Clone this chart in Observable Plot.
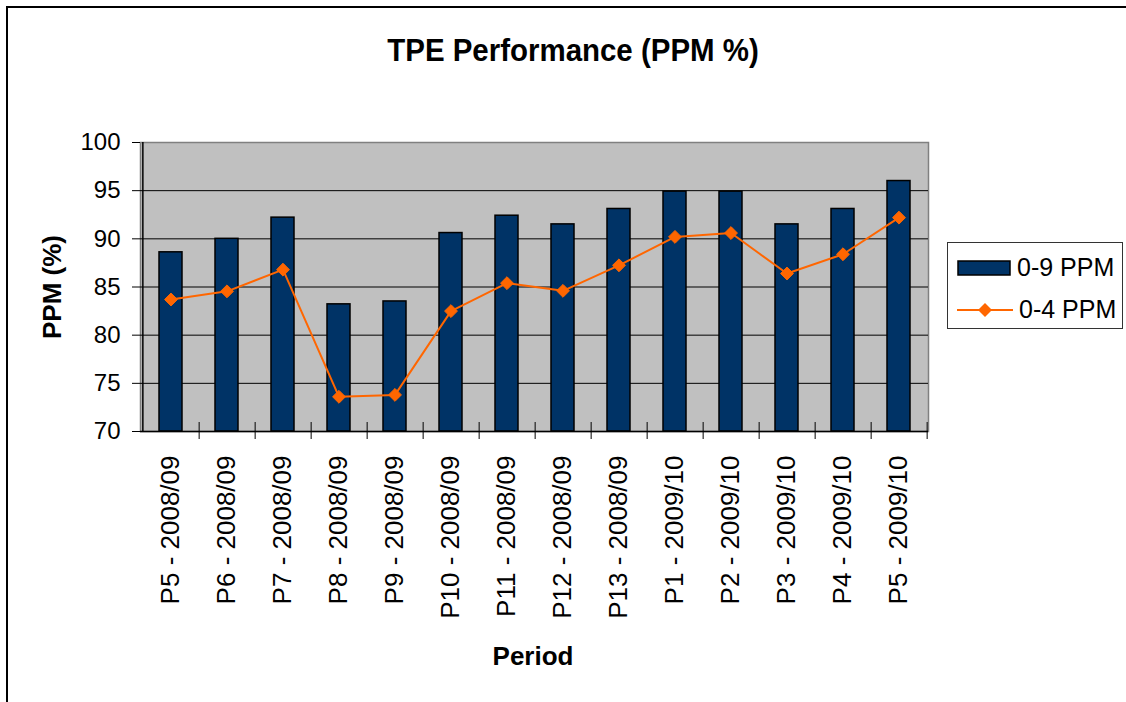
<!DOCTYPE html>
<html>
<head>
<meta charset="utf-8">
<script src="https://cdn.jsdelivr.net/npm/d3@7"></script>
<script src="https://cdn.jsdelivr.net/npm/@observablehq/plot@0.6"></script>
<style>
  html, body { margin: 0; padding: 0; background: #fff; }
  #wrap { position: relative; width: 1126px; height: 702px; overflow: hidden; font-family: "Liberation Sans", Arial, sans-serif; }
  #border { position: absolute; left: 6px; top: 6px; width: 1200px; height: 800px; border-top: 2px solid #000; border-left: 2px solid #000; }
  #chart { position: absolute; left: 0; top: 0; }
  .title { position: absolute; left: 0; width: 1146px; top: 33px; text-align: center; font-weight: bold; font-size: 31px; transform: scaleX(0.95); transform-origin: 573px 0; }
  .ytitle { position: absolute; left: 52px; top: 287px; transform: translate(-50%, -50%) rotate(-90deg); font-weight: bold; font-size: 26px; white-space: nowrap; }
  .xtitle { position: absolute; left: 533px; top: 656px; transform: translate(-50%, -50%); font-weight: bold; font-size: 26px; white-space: nowrap; }
  #legend { position: absolute; left: 947px; top: 242px; width: 176px; height: 87px; border: 1px solid #333; box-sizing: border-box; background: #fff; }
  .lrow { position: absolute; left: 9px; display: flex; align-items: center; font-size: 25px; white-space: nowrap; }
  .lrow svg { margin-right: 6px; }
</style>
</head>
<body>
<div id="wrap">
  <div id="border"></div>
  <div id="chart"></div>
  <div class="title">TPE Performance (PPM %)</div>
  <div class="ytitle">PPM (%)</div>
  <div class="xtitle">Period</div>
  <div id="legend"></div>
</div>
<script>
const periods = ["P5 - 2008/09","P6 - 2008/09","P7 - 2008/09","P8 - 2008/09","P9 - 2008/09","P10 - 2008/09","P11 - 2008/09","P12 - 2008/09","P13 - 2008/09","P1 - 2009/10","P2 - 2009/10","P3 - 2009/10","P4 - 2009/10","P5 - 2009/10"];
const ppm09 = [88.6, 90.0, 92.2, 83.2, 83.5, 90.6, 92.4, 91.5, 93.1, 94.9, 94.9, 91.5, 93.1, 96.0];
const ppm04 = [83.7, 84.55, 86.8, 73.6, 73.8, 82.5, 85.4, 84.6, 87.25, 90.2, 90.6, 86.4, 88.4, 92.2];
const yTicks = [70, 75, 80, 85, 90, 95, 100];
const seriesNames = ["0-9 PPM", "0-4 PPM"];
const colors = { bar: "#003366", line: "#FF6600" };

const data = periods.map((p, i) => ({ period: p, v09: ppm09[i], v04: ppm04[i] }));

const W = 1126, H = 702, mL = 140, mR = 198, mT = 142, mB = 271;
const step = (W - mL - mR) / periods.length;

const chart = Plot.plot({
  width: W, height: H,
  marginLeft: mL, marginRight: mR, marginTop: mT, marginBottom: mB,
  style: { fontFamily: "'Liberation Sans', Arial, sans-serif", background: "transparent", overflow: "visible" },
  x: { domain: periods, paddingInner: 0.59, paddingOuter: 0.295, label: null },
  y: { domain: [70, 100], label: null },
  marks: [
    Plot.frame({ fill: "#C0C0C0", stroke: "#808080", strokeWidth: 1.5 }),
    Plot.ruleY([75, 80, 85, 90, 95], { stroke: "#000", strokeWidth: 1 }),
    Plot.axisY({ ticks: yTicks, tickSize: 8, tickPadding: 12, fontSize: 24, stroke: "#000", fill: "#000", label: null }),
    Plot.axisX({ tickRotate: -90, tickSize: 0, tickPadding: 24, fontSize: 26, fill: "#000", label: null }),
    Plot.barY(data, { x: "period", y1: 70, y2: "v09", fill: colors.bar, stroke: "#000", strokeWidth: 1.5 }),
    Plot.ruleY([70], { stroke: "#000", strokeWidth: 1.5 }),
    Plot.ruleX([periods[0]], { dx: -step / 2, stroke: "#000", strokeWidth: 1.5 }),
    Plot.ruleX(periods, { dx: step / 2, y1: 70, y2: 70, insetTop: -9, insetBottom: -8, stroke: "#000", strokeWidth: 1 }),
    Plot.line(data, { x: "period", y: "v04", stroke: colors.line, strokeWidth: 2 }),
    Plot.dot(data, { x: "period", y: "v04", symbol: "diamond2", r: 5.8, fill: colors.line, stroke: colors.line, strokeWidth: 1 })
  ]
});
document.getElementById("chart").appendChild(chart);

const legend = document.getElementById("legend");
legend.innerHTML = `
  <div class="lrow" style="top:10px;">
    <svg width="54" height="16"><rect x="1" y="1" width="52" height="14" fill="${colors.bar}" stroke="#000" stroke-width="1.5"/></svg>
    <span>${seriesNames[0]}</span>
  </div>
  <div class="lrow" style="top:52px;">
    <svg width="56" height="16"><line x1="0" y1="8" x2="56" y2="8" stroke="${colors.line}" stroke-width="2"/><path d="M28,1 L35,8 L28,15 L21,8 Z" fill="${colors.line}"/></svg>
    <span>${seriesNames[1]}</span>
  </div>`;
</script>
</body>
</html>
